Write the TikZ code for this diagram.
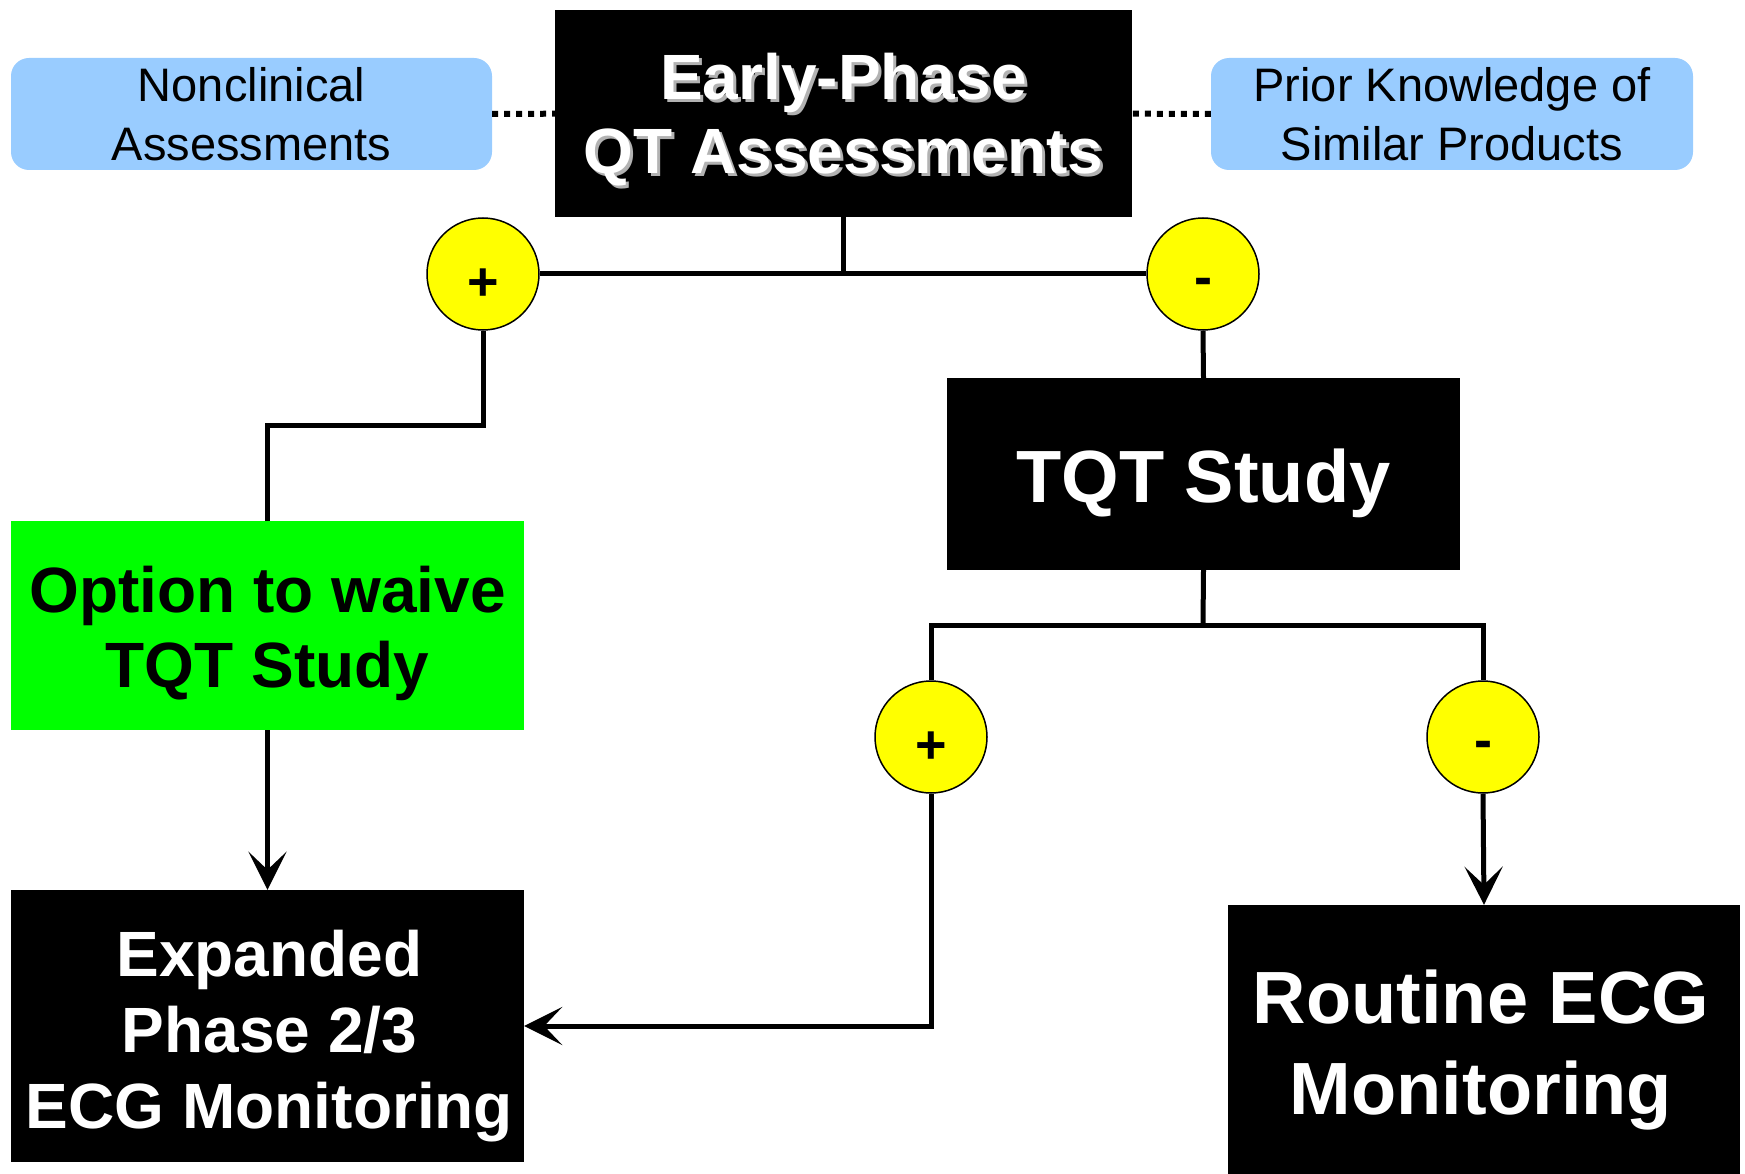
\documentclass[tikz,border=0pt]{standalone}
\usepackage{fontspec}
\setmainfont{Liberation Sans}
\usetikzlibrary{arrows.meta,positioning}
\definecolor{note}{RGB}{153,204,255}
\definecolor{waive}{RGB}{0,255,0}
\definecolor{sign}{RGB}{255,255,0}

\tikzset{
  blackbox/.style={fill=black,inner sep=0pt},
  boxtext/.style={text=white,align=center,inner sep=0pt},
  notebox/.style={fill=note,rounded corners=18pt,align=center,inner sep=0pt,font=\fontsize{47}{59}\selectfont},
  signnode/.style={circle,draw,fill=sign,line width=1.5pt,minimum size=112pt,inner sep=0pt},
  signtext/.style={inner sep=0pt,font=\fontsize{54}{54}\selectfont\bfseries},
  link/.style={line width=5pt},
}

\begin{document}
\begin{tikzpicture}[x=1pt, y=-1pt, >={Stealth[length=38pt,width=38pt,inset=18pt]}]
\useasboundingbox (0,0) rectangle (1745,1174);

% top row
\node(nonclin)[notebox,minimum width=481pt,minimum height=112pt] at (251.5,114) {Nonclinical\\Assessments};
\node(early)[blackbox,minimum width=577pt,minimum height=207pt] at (843.5,113.5) {};
\node(earlyshadow)[boxtext,text=gray!60,font=\fontsize{64}{74}\selectfont\bfseries] at ([xshift=3pt,yshift=-9pt]early.center) {Early-Phase\\QT Assessments};
\node(earlytext)[boxtext,font=\fontsize{64}{74}\selectfont\bfseries] at ([yshift=-6pt]early.center) {Early-Phase\\QT Assessments};
\node(prior)[notebox,minimum width=482pt,minimum height=112pt] at (1452,114) {Prior Knowledge of\\Similar Products};

\draw[line width=6pt,dash pattern=on 6pt off 6pt] (nonclin) -- (early);
\draw[line width=6pt,dash pattern=on 6pt off 6pt] (prior) -- (early);

% first decision
\node(plusA)[signnode] at (483,274) {};
\node(plusAtext)[signtext] at ([yshift=-11pt]plusA.center) {+};
\node(minusA)[signnode] at (1203,274) {};
\node(minusAtext)[signtext] at ([yshift=-13pt]minusA.center) {-};
\draw[link] (early.south) -- (early.south |- plusA.east);
\draw[link] (plusA.east) -- (minusA.west);

\node(waive)[fill=waive,minimum width=513pt,minimum height=209pt,inner sep=0pt] at (267.5,625.5) {};
\node(waivetext)[boxtext,text=black,font=\fontsize{64}{75}\selectfont\bfseries] at ([yshift=-8pt]waive.center) {Option to waive\\TQT Study};
\node(tqt)[blackbox,minimum width=513pt,minimum height=192pt] at (1203.5,474) {};
\node(tqttext)[boxtext,font=\fontsize{74}{86}\selectfont\bfseries] at ([yshift=-9pt]tqt.center) {TQT Study};

\coordinate(kneeA) at (483,425);
\draw[link] (plusA.south) -- (kneeA) -| (waive.north);
\draw[link] (minusA.south) -- (tqt.north);

% outcomes
\node(expanded)[blackbox,minimum width=513pt,minimum height=272pt] at (267.5,1026) {};
\node(expandedtext)[boxtext,font=\fontsize{64}{76}\selectfont\bfseries] at ([xshift=2pt,yshift=-10pt]expanded.center) {Expanded\\Phase 2/3\\ECG Monitoring};
\node(routine)[blackbox,minimum width=512pt,minimum height=269pt] at (1484,1039.5) {};
\node(routinetext)[boxtext,font=\fontsize{74}{91}\selectfont\bfseries] at ([xshift=-3pt,yshift=-11pt]routine.center) {Routine ECG\\Monitoring};

\draw[link,->] (waive.south) -- (expanded.north);

% second decision
\node(plusB)[signnode] at (931,737) {};
\node(plusBtext)[signtext] at ([yshift=-11pt]plusB.center) {+};
\node(minusB)[signnode] at (1483,737) {};
\node(minusBtext)[signtext] at ([yshift=-13pt]minusB.center) {-};
\coordinate(split) at (1203,625);
\draw[link] (tqt.south) -- (split);
\draw[link] (plusB.north) -- (plusB.north |- split) -- (minusB.north |- split) -- (minusB.north);
\draw[link,->] (plusB.south) |- (expanded.east);
\draw[link,->] (minusB.south) -- (routine.north);
\end{tikzpicture}
\end{document}
